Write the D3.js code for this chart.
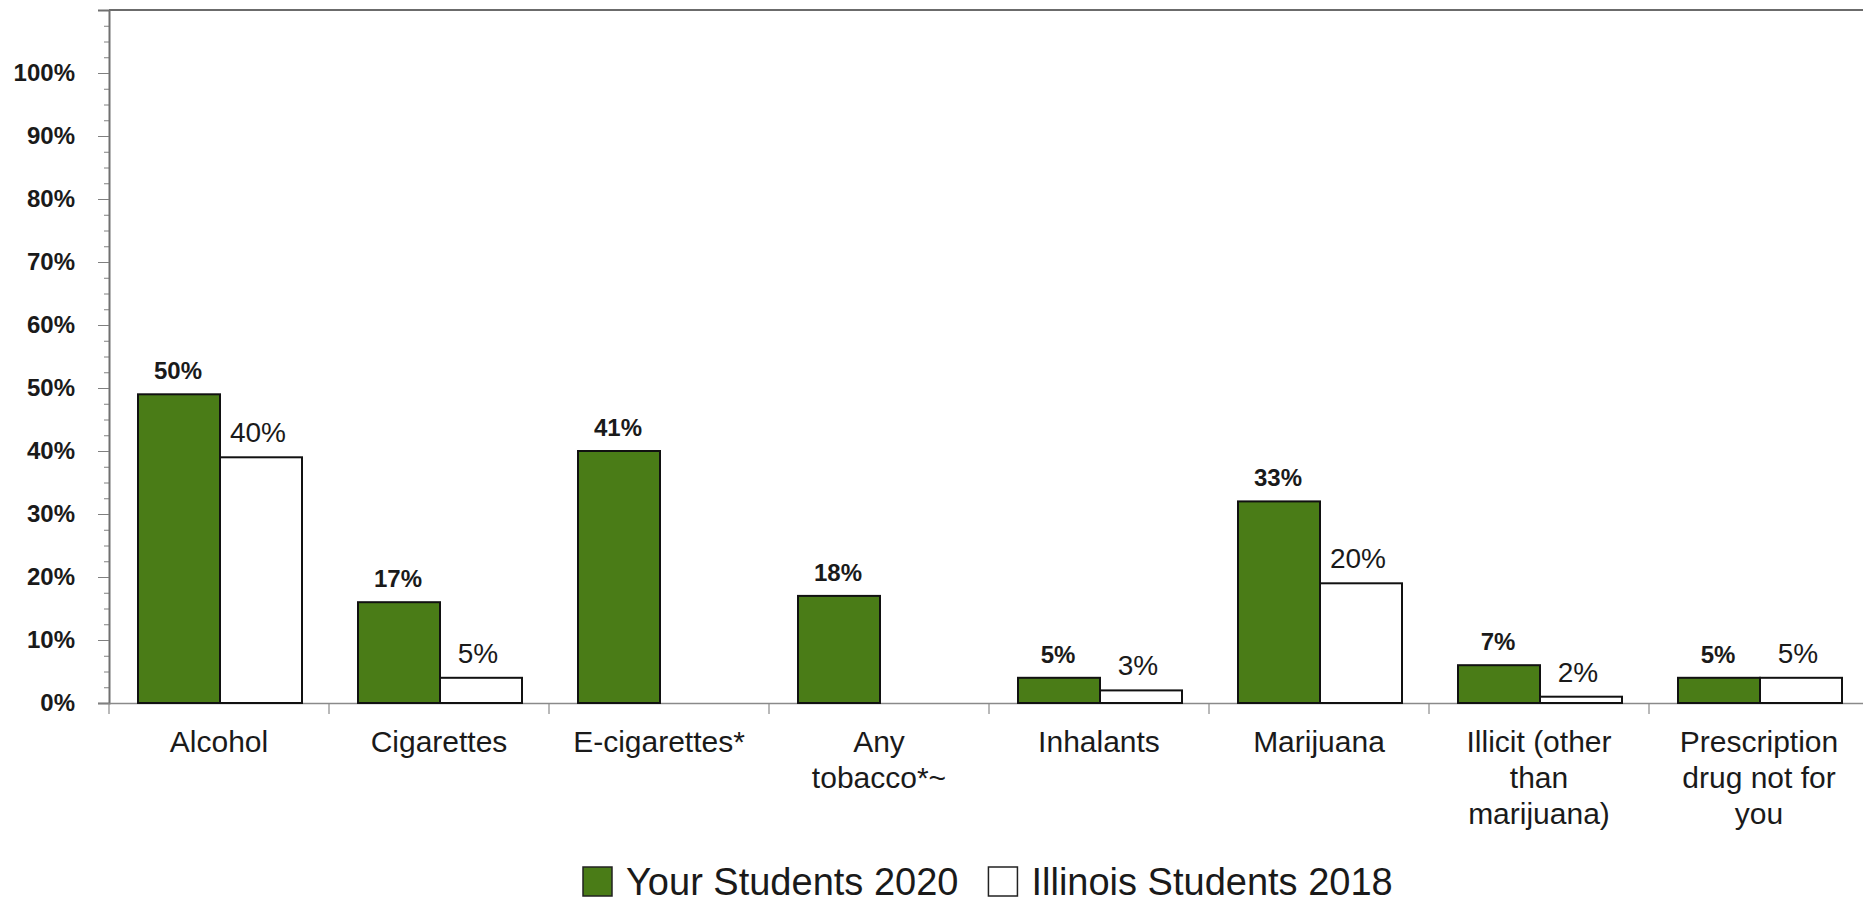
<!DOCTYPE html>
<html>
<head>
<meta charset="utf-8">
<script src="https://cdn.jsdelivr.net/npm/d3@7"></script>
<style>
  html, body { margin: 0; padding: 0; background: #fff; }
  svg { display: block; }
  text { font-family: "Liberation Sans", Arial, sans-serif; fill: #1a1a1a; }
</style>
</head>
<body>
<svg id="chart" width="1863" height="904"></svg>
<script>
const categories = ["Alcohol", "Cigarettes", "E-cigarettes*", "Any tobacco*~", "Inhalants", "Marijuana", "Illicit (other than marijuana)", "Prescription drug not for you"];
const categoryLines = [["Alcohol"], ["Cigarettes"], ["E-cigarettes*"], ["Any", "tobacco*~"], ["Inhalants"], ["Marijuana"], ["Illicit (other", "than", "marijuana)"], ["Prescription", "drug not for", "you"]];
const seriesNames = ["Your Students 2020", "Illinois Students 2018"];
const yourStudents2020 = [49, 16, 40, 17, 4, 32, 6, 4];
const illinois2018 = [39, 4, null, null, 2, 19, 1, 4];
const yourLabels = ["50%", "17%", "41%", "18%", "5%", "33%", "7%", "5%"];
const illinoisLabels = ["40%", "5%", null, null, "3%", "20%", "2%", "5%"];
const yTickValues = [0, 10, 20, 30, 40, 50, 60, 70, 80, 90, 100];
const yMinorTicks = d3.range(0, 110.01, 2.5);

const colors = ["#4a7c17", "#ffffff"];

const svg = d3.select("#chart");
const plotLeft = 109, plotRight = 1869, plotTop = 10, plotBottom = 703;

const x0 = d3.scaleBand().domain(categories).range([plotLeft, plotRight]).paddingInner(0).paddingOuter(0);
const x1 = d3.scaleBand().domain(seriesNames).range([29, 193]).padding(0);
const y = d3.scaleLinear().domain([0, 110]).range([plotBottom, plotTop]);

// top border
svg.append("line").attr("x1", plotLeft).attr("x2", 1863).attr("y1", plotTop).attr("y2", plotTop)
  .attr("stroke", "#6b6b6b").attr("stroke-width", 2);

// minor ticks
const minor = svg.append("g").attr("transform", `translate(${plotLeft},0)`)
  .call(d3.axisLeft(y).tickValues(yMinorTicks).tickSize(5).tickFormat(""));
minor.select(".domain").remove();
minor.selectAll("line").attr("stroke", "#808080");

// major y axis
const yAxis = svg.append("g").attr("transform", `translate(${plotLeft},0)`)
  .call(d3.axisLeft(y).tickValues(yTickValues).tickSize(11).tickPadding(23).tickFormat(d => d + "%"));
yAxis.select(".domain").attr("stroke", "#707070").attr("stroke-width", 2);
yAxis.selectAll("line").attr("stroke", "#808080");
yAxis.selectAll("text").style("font-family", '"Liberation Sans", Arial, sans-serif')
  .style("font-size", "24px").style("font-weight", "bold").attr("fill", "#1a1a1a");

// x axis
const xAxis = svg.append("g").attr("transform", `translate(0,${plotBottom})`)
  .call(d3.axisBottom(x0).tickValues([]).tickSizeOuter(0));
xAxis.select(".domain").attr("stroke", "#8a8a8a").attr("stroke-width", 1.5);
// category boundary ticks
svg.append("g").selectAll("line")
  .data(categories)
  .join("line")
  .attr("x1", d => x0(d)).attr("x2", d => x0(d))
  .attr("y1", plotBottom).attr("y2", plotBottom + 11)
  .attr("stroke", "#8a8a8a").attr("stroke-width", 1.2);

// category labels
const catG = svg.append("g");
categories.forEach((c, i) => {
  const cx = x0(c) + x0.bandwidth() / 2;
  const t = catG.append("text")
    .attr("x", cx)
    .attr("y", 752)
    .attr("text-anchor", "middle")
    .style("font-size", "30px");
  categoryLines[i].forEach((line, j) => {
    t.append("tspan").attr("x", cx).attr("y", 752 + j * 36).text(line);
  });
});

// bars
const seriesData = [yourStudents2020, illinois2018];
const seriesLabels = [yourLabels, illinoisLabels];
seriesNames.forEach((s, si) => {
  const data = categories.map((c, i) => ({ c, v: seriesData[si][i], l: seriesLabels[si][i] })).filter(d => d.v != null);
  svg.append("g").selectAll("rect")
    .data(data)
    .join("rect")
    .attr("x", d => x0(d.c) + x1(s))
    .attr("width", x1.bandwidth())
    .attr("y", d => y(d.v))
    .attr("height", d => y(0) - y(d.v))
    .attr("fill", colors[si])
    .attr("stroke", "#111")
    .attr("stroke-width", 2);
  svg.append("g").selectAll("text")
    .data(data)
    .join("text")
    .attr("x", d => x0(d.c) + x1(s) + x1.bandwidth() / 2 - (si === 0 ? 1 : 3))
    .attr("y", d => y(d.v) - 15)
    .attr("text-anchor", "middle")
    .style("font-size", si === 0 ? "24px" : "28px")
    .style("font-weight", si === 0 ? "bold" : "normal")
    .text(d => d.l);
});

// legend
const lg = svg.append("g");
let lx = 583;
seriesNames.forEach((s, si) => {
  lg.append("rect").attr("x", lx).attr("y", 867).attr("width", 29).attr("height", 29)
    .attr("fill", colors[si]).attr("stroke", "#222").attr("stroke-width", 1.5);
  const t = lg.append("text").attr("x", lx + 43).attr("y", 895)
    .style("font-size", "38px").text(s);
  const w = t.node().getComputedTextLength();
  lx = lx + 43 + w + 30;
});
</script>
</body>
</html>
